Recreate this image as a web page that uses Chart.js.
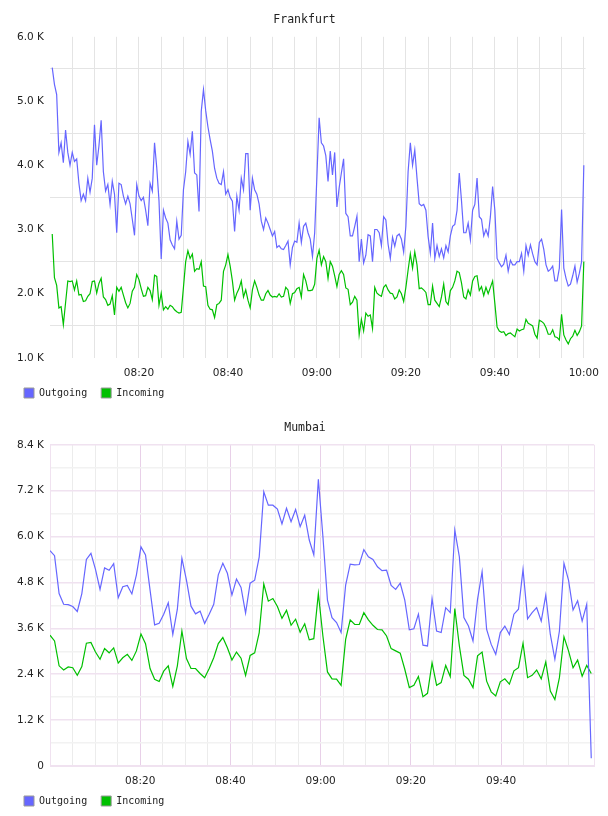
<!DOCTYPE html>
<html>
<head>
<meta charset="utf-8">
<title>Traffic</title>
<script src="https://cdn.jsdelivr.net/npm/chart.js@4.4.1/dist/chart.umd.min.js"></script>
<style>
    body { margin: 0; background: #fff; }
    .box { position: relative; width: 608px; height: 408px; }
</style>
</head>
<body>
<div class="box"><canvas id="frankfurt"></canvas></div>
<div class="box"><canvas id="mumbai"></canvas></div>
<script>
// data - values in thousands, time in minutes after 08:00

const seriesNames = ['Outgoing', 'Incoming'];
const seriesColors = ['#6666ff', '#00c000'];

const frankfurtStartMin = 0.5;
const frankfurtStepSec = 30;
const frankfurtOutgoing = [
    5.52, 5.26, 5.10, 4.20, 4.35, 4.04, 4.55, 4.20, 4.00, 4.20,
    4.06, 4.10, 3.72, 3.45, 3.55, 3.45, 3.80, 3.58, 3.80, 4.63,
    4.00, 4.30, 4.70, 3.90, 3.60, 3.70, 3.39, 3.75, 3.55, 2.95,
    3.72, 3.70, 3.52, 3.40, 3.52, 3.40, 3.16, 2.91, 3.70, 3.52,
    3.45, 3.50, 3.30, 3.06, 3.72, 3.60, 4.35, 3.96, 3.45, 2.54,
    3.30, 3.18, 3.10, 2.84, 2.76, 2.70, 3.13, 2.85, 2.91, 3.62,
    3.90, 4.37, 4.17, 4.53, 3.88, 3.85, 3.28, 4.84, 5.18, 4.85,
    4.60, 4.40, 4.22, 3.95, 3.80, 3.72, 3.70, 3.90, 3.55, 3.62,
    3.50, 3.44, 2.97, 3.52, 3.30, 3.80, 3.62, 4.18, 4.18, 3.30,
    3.80, 3.62, 3.55, 3.40, 3.13, 3.00, 3.18, 3.10, 3.00, 2.90,
    2.97, 2.72, 2.75, 2.70, 2.69, 2.75, 2.82, 2.45, 2.72, 2.82,
    2.80, 3.10, 2.80, 3.05, 3.10, 2.95, 2.85, 2.58, 2.95, 3.83,
    4.74, 4.35, 4.30, 4.15, 3.75, 4.22, 3.85, 4.20, 3.35, 3.65,
    3.88, 4.10, 3.25, 3.20, 2.90, 2.90, 3.05, 3.21, 2.50, 2.85,
    2.48, 2.60, 2.92, 2.90, 2.50, 3.00, 3.00, 2.95, 2.75, 3.20,
    3.15, 2.77, 2.55, 2.88, 2.74, 2.90, 2.93, 2.85, 2.65, 3.05,
    3.90, 4.35, 4.00, 4.24, 3.80, 3.40, 3.37, 3.39, 3.30, 2.89,
    2.63, 3.10, 2.55, 2.75, 2.58, 2.70, 2.56, 2.75, 2.65, 2.90,
    3.05, 3.08, 3.30, 3.88, 3.45, 2.95, 2.95, 3.10, 2.84, 3.30,
    3.39, 3.80, 3.20, 3.16, 2.90, 3.00, 2.90, 3.20, 3.67, 3.30,
    2.55, 2.48, 2.42, 2.46, 2.60, 2.35, 2.52, 2.45, 2.45, 2.50,
    2.50, 2.63, 2.35, 2.75, 2.60, 2.76, 2.62, 2.50, 2.45, 2.80,
    2.85, 2.69, 2.45, 2.35, 2.38, 2.43, 2.20, 2.20, 2.40, 3.31,
    2.40, 2.24, 2.12, 2.15, 2.28, 2.43, 2.18, 2.32, 2.50, 4.00
];
const frankfurtIncoming = [
    2.93, 2.25, 2.13, 1.78, 1.80, 1.52, 1.86, 2.20, 2.19, 2.20,
    2.06, 2.20, 1.98, 1.99, 1.88, 1.89, 1.96, 2.00, 2.19, 2.20,
    2.01, 2.16, 2.24, 1.95, 1.91, 1.82, 1.84, 1.97, 1.67, 2.10,
    2.04, 2.10, 1.98, 1.86, 1.78, 1.85, 2.04, 2.10, 2.30, 2.22,
    2.08, 1.96, 1.97, 2.10, 2.05, 1.91, 2.29, 2.27, 1.82, 2.01,
    1.75, 1.80, 1.76, 1.82, 1.80, 1.75, 1.72, 1.70, 1.71, 2.10,
    2.50, 2.67, 2.55, 2.62, 2.35, 2.39, 2.38, 2.50, 2.12, 2.11,
    1.82, 1.76, 1.75, 1.63, 1.83, 1.85, 1.90, 2.35, 2.45, 2.61,
    2.43, 2.20, 1.90, 2.01, 2.08, 2.20, 1.95, 2.06, 1.90, 1.78,
    2.06, 2.20, 2.10, 1.98, 1.90, 1.90, 2.00, 2.05, 1.98, 1.95,
    1.96, 1.95, 2.00, 1.95, 1.96, 2.10, 2.06, 1.85, 2.00, 2.02,
    2.08, 2.10, 1.95, 2.30, 2.20, 2.05, 2.05, 2.06, 2.15, 2.55,
    2.68, 2.45, 2.58, 2.50, 2.24, 2.50, 2.43, 2.28, 2.11, 2.30,
    2.36, 2.30, 2.09, 2.07, 1.83, 1.87, 1.96, 1.90, 1.36, 1.60,
    1.42, 1.70, 1.65, 1.67, 1.46, 2.10, 2.01, 1.98, 1.96, 2.10,
    2.14, 2.06, 2.01, 2.00, 1.92, 1.95, 2.06, 2.00, 1.88, 2.10,
    2.37, 2.62, 2.40, 2.65, 2.45, 2.08, 2.09, 2.06, 2.02, 1.83,
    1.83, 2.12, 1.90, 1.85, 1.80, 1.95, 2.15, 1.88, 1.83, 2.05,
    2.10, 2.20, 2.35, 2.33, 2.17, 1.95, 1.92, 2.06, 1.98, 2.20,
    2.27, 2.28, 2.05, 2.11, 1.97, 2.10, 2.00, 2.10, 2.20, 1.85,
    1.48, 1.42, 1.40, 1.41, 1.35, 1.38, 1.39, 1.36, 1.33, 1.45,
    1.42, 1.44, 1.45, 1.60, 1.54, 1.52, 1.50, 1.37, 1.31, 1.59,
    1.57, 1.54, 1.47, 1.37, 1.37, 1.44, 1.33, 1.32, 1.28, 1.68,
    1.36, 1.28, 1.22, 1.30, 1.34, 1.43, 1.35, 1.41, 1.50, 2.50
];

const mumbaiStartMin = 0;
const mumbaiStepSec = 60.5;
const mumbaiOutgoing = [
    5.63, 5.50, 4.51, 4.23, 4.22, 4.17, 4.04, 4.51, 5.40, 5.56,
    5.14, 4.62, 5.18, 5.12, 5.29, 4.40, 4.69, 4.72, 4.50, 5.00,
    5.73, 5.52, 4.60, 3.69, 3.73, 3.97, 4.27, 3.44, 4.10, 5.43,
    4.86, 4.18, 3.98, 4.05, 3.73, 3.97, 4.23, 5.00, 5.30, 5.04,
    4.47, 4.89, 4.67, 4.00, 4.78, 4.86, 5.47, 7.17, 6.82, 6.82,
    6.72, 6.33, 6.74, 6.39, 6.71, 6.26, 6.56, 5.91, 5.52, 7.50,
    6.00, 4.34, 3.88, 3.75, 3.49, 4.73, 5.28, 5.26, 5.27, 5.66,
    5.47, 5.40, 5.21, 5.11, 5.12, 4.72, 4.62, 4.78, 4.34, 3.56,
    3.59, 3.97, 3.16, 3.14, 4.38, 3.53, 3.49, 4.14, 4.01, 6.17,
    5.47, 3.88, 3.66, 3.27, 4.36, 5.08, 3.57, 3.18, 2.92, 3.49,
    3.66, 3.44, 3.97, 4.10, 5.14, 3.85, 4.01, 4.14, 3.79, 4.47,
    3.44, 2.79, 3.53, 5.30, 4.86, 4.08, 4.32, 3.79, 4.23, 0.20
];
const mumbaiIncoming = [
    3.42, 3.27, 2.62, 2.51, 2.59, 2.57, 2.37, 2.60, 3.21, 3.23,
    2.98, 2.79, 3.07, 2.96, 3.09, 2.69, 2.83, 2.92, 2.76, 3.01,
    3.45, 3.20, 2.55, 2.27, 2.21, 2.48, 2.62, 2.08, 2.62, 3.53,
    2.81, 2.55, 2.55, 2.42, 2.31, 2.55, 2.83, 3.20, 3.36, 3.09,
    2.77, 2.98, 2.82, 2.37, 2.89, 2.96, 3.49, 4.76, 4.31, 4.38,
    4.17, 3.86, 4.07, 3.68, 3.84, 3.50, 3.72, 3.30, 3.33, 4.51,
    3.40, 2.46, 2.28, 2.27, 2.11, 3.31, 3.82, 3.70, 3.70, 4.01,
    3.82, 3.68, 3.57, 3.56, 3.40, 3.07, 3.01, 2.95, 2.53, 2.05,
    2.11, 2.34, 1.81, 1.90, 2.70, 2.11, 2.18, 2.63, 2.34, 4.12,
    3.14, 2.37, 2.27, 2.05, 2.88, 2.98, 2.22, 1.94, 1.83, 2.20,
    2.28, 2.14, 2.49, 2.57, 3.21, 2.31, 2.37, 2.51, 2.28, 2.72,
    1.96, 1.74, 2.31, 3.38, 3.01, 2.57, 2.77, 2.35, 2.63, 2.42
];

// helpers

const textColor = '#222';
const monoFont = 'DejaVu Sans Mono';
const tickFont = {family: 'DejaVu Sans', size: 10.5};

function toPoints(values, startMin, stepSec){
    return values.map((v,i)=>({x: startMin + i*stepSec/60, y: v}));
}

function pad(n){
    return String(n).padStart(2,'0');
}

function clock(v){
    return pad(8 + Math.floor(v/60)) + ':' + pad(Math.round(v%60));
}

function legendOptions(){
    return {
        position: 'bottom',
        align: 'start',
        labels: {
            boxWidth: 10,
            boxHeight: 10,
            padding: 8,
            color: textColor,
            font: {family: monoFont, size: 10},
            generateLabels: chart => chart.data.datasets.map((ds,i)=>({
                text: ds.label + ' ',
                fillStyle: ds.borderColor,
                strokeStyle: '#999',
                lineWidth: 1,
                fontColor: textColor,
                hidden: false,
                datasetIndex: i
            }))
        }
    };
}

function makeChart(id, title, outgoing, incoming, xOpts, yOpts, padRight){
    return new Chart(id, {
        type: 'line',
        data: {
            datasets: [outgoing, incoming].map((pts,i)=>({
                label: seriesNames[i],
                data: pts,
                borderColor: seriesColors[i],
                backgroundColor: seriesColors[i],
                borderWidth: 1.2,
                pointRadius: 0,
                tension: 0,
                fill: false
            }))
        },
        options: {
            animation: false,
            responsive: true,
            maintainAspectRatio: false,
            devicePixelRatio: 1,
            layout: {padding: {left: 16, right: padRight, top: 0, bottom: 0}},
            plugins: {
                title: {
                    display: true,
                    text: title,
                    color: textColor,
                    font: {family: monoFont, size: 11.5, weight: 'normal'},
                    padding: {top: 13, bottom: 10}
                },
                legend: legendOptions(),
                tooltip: {enabled: false}
            },
            scales: {x: xOpts, y: yOpts}
        }
    });
}

// Frankfurt

makeChart('frankfurt', 'Frankfurt',
    toPoints(frankfurtOutgoing, frankfurtStartMin, frankfurtStepSec),
    toPoints(frankfurtIncoming, frankfurtStartMin, frankfurtStepSec),
    {
        type: 'linear',
        min: 0,
        max: 120.4,
        afterFit: s => { s.height = 22; },
        border: {display: false},
        grid: {
            drawTicks: false,
            color: ctx => ctx.tick && ctx.tick.value > 0 ? '#e4e4e4' : 'rgba(0,0,0,0)'
        },
        ticks: {
            stepSize: 5,
            includeBounds: false,
            autoSkip: false,
            maxRotation: 0,
            padding: 9,
            color: textColor,
            font: tickFont,
            callback: v => v > 0 && v % 20 === 0 ? clock(v) : ''
        }
    },
    {
        min: 1,
        max: 6,
        afterFit: s => { s.width = 34; },
        border: {display: false},
        grid: {
            drawTicks: false,
            color: ctx => ctx.tick && !Number.isInteger(ctx.tick.value) ? '#e4e4e4' : 'rgba(0,0,0,0)'
        },
        ticks: {
            stepSize: 0.5,
            padding: 6,
            color: textColor,
            font: tickFont,
            callback: v => Number.isInteger(v) ? v.toFixed(1) + ' K' : ''
        }
    },
    15
);

// Mumbai

const pinkMajor = '#e8d0e8';
const pinkLine = '#f0e2f0';
const greyLine = '#ececec';
const mumbaiMax = 120.6;

makeChart('mumbai', 'Mumbai',
    toPoints(mumbaiOutgoing, mumbaiStartMin, mumbaiStepSec),
    toPoints(mumbaiIncoming, mumbaiStartMin, mumbaiStepSec),
    {
        type: 'linear',
        min: 0,
        max: mumbaiMax,
        afterFit: s => { s.height = 22; },
        border: {display: true, color: pinkLine},
        grid: {
            drawTicks: false,
            color: ctx => {
                const v = ctx.tick ? ctx.tick.value : 0;
                if(v === 0 || v >= mumbaiMax) return pinkLine;
                return v % 20 === 0 ? pinkMajor : greyLine;
            }
        },
        ticks: {
            stepSize: 5,
            autoSkip: false,
            maxRotation: 0,
            padding: 9,
            color: textColor,
            font: tickFont,
            callback: v => v > 0 && v < 120 && v % 20 === 0 ? clock(v) : ''
        }
    },
    {
        min: 0,
        max: 8.4,
        afterFit: s => { s.width = 34; },
        border: {display: true, color: pinkLine},
        grid: {
            drawTicks: false,
            color: ctx => ctx.tick && Math.round(ctx.tick.value/0.6) % 2 === 0 ? pinkLine : '#f2f2f2',
            lineWidth: 1.5
        },
        ticks: {
            stepSize: 0.6,
            padding: 6,
            color: textColor,
            font: tickFont,
            callback: v => Math.round(v/0.6) % 2 !== 0 ? '' : (v === 0 ? '0' : v.toFixed(1) + ' K')
        }
    },
    14
);
</script>
</body>
</html>
